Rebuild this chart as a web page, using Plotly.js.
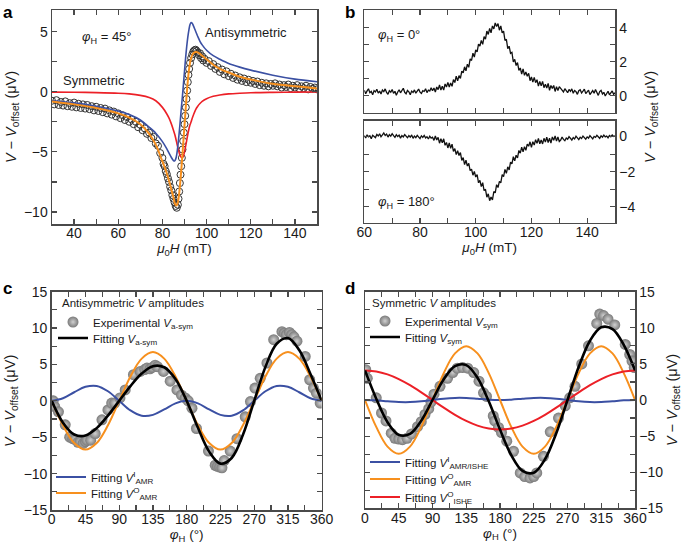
<!DOCTYPE html>
<html><head><meta charset="utf-8">
<script src="https://cdn.plot.ly/plotly-3.0.1.min.js"></script>
<style>html,body{margin:0;padding:0;background:#fff}#g{width:685px;height:549px}</style>
</head><body><div id="g"></div>
<script>
// ---------- Panel a ----------
const fieldA = [30,40,50,60,65,70,74,77,80,82,83,84,85,85.5,86,86.5,87,87.5,88,88.5,89,89.5,90,90.5,91,91.5,92,92.5,93,93.5,94,95,96,97,98,100,103,106,110,115,120,130,140,150];
const blueA = [-0.75,-0.92,-1.2,-1.6,-1.9,-2.35,-2.95,-3.45,-4.15,-4.75,-5.1,-5.45,-5.72,-5.75,-5.6,-5.2,-4.5,-3.6,-2.6,-1.5,-0.5,0.6,1.7,2.8,3.75,4.55,5.15,5.6,5.75,5.7,5.5,5.05,4.6,4.2,3.9,3.45,3.0,2.7,2.35,2.05,1.8,1.38,1.05,0.83];
const redA = [-0.03,-0.04,-0.07,-0.12,-0.18,-0.3,-0.48,-0.75,-1.3,-1.85,-2.2,-2.65,-3.2,-3.5,-3.85,-4.25,-4.65,-5.0,-5.3,-5.45,-5.5,-5.35,-5.0,-4.55,-4.05,-3.55,-3.1,-2.75,-2.5,-2.2,-1.95,-1.5,-1.2,-0.98,-0.8,-0.58,-0.38,-0.27,-0.18,-0.12,-0.08,-0.05,-0.03,-0.02];
const orangeA = [-0.82,-1.05,-1.35,-1.8,-2.15,-2.7,-3.5,-4.4,-5.8,-6.8,-7.4,-8.1,-8.8,-9.2,-9.42,-9.45,-9.2,-8.6,-7.7,-6.6,-5.4,-4.1,-2.8,-1.5,-0.2,0.9,1.8,2.4,2.8,3.05,3.2,3.3,3.28,3.15,3.0,2.7,2.25,1.9,1.6,1.25,1.02,0.66,0.45,0.28];
const fieldCirc = [30,31,32,33,34,35,36,37,38,39,40,41,42,43,44,45,46,47,48,49,50,51,52,53,54,55,56,57,58,59,60,61,62,63,64,65,66,67,68,69,70,71,72,73,74,75,76,77,78,79,80,80.5,81,81.5,82,82.5,83,83.5,84,84.5,85,85.5,86,86.5,87,87.3,87.6,87.9,88.2,88.5,88.8,89.1,89.4,89.7,90,90.3,90.6,90.9,91.2,91.5,91.8,92.1,92.5,93,93.5,94,94.5,95,95.5,96,96.5,97,97.5,98,98.5,99,100,101,102,103,104,105,106,107,108,109,110,111,112,113,114,115,116,117,118,119,120,121,122,123,124,125,126,127,128,129,130,131,132,133,134,135,136,137,138,139,140,141,142,143,144,145,146,147,148,149,150];
const vCirc = [-0.75,-1.05,-0.7,-1.1,-0.85,-1.15,-0.8,-1.2,-0.95,-1.25,-0.9,-1.3,-1.0,-1.35,-1.05,-1.4,-1.1,-1.45,-1.2,-1.55,-1.25,-1.6,-1.35,-1.7,-1.4,-1.8,-1.55,-1.9,-1.65,-2.05,-1.8,-2.2,-1.95,-2.35,-2.1,-2.5,-2.3,-2.7,-2.5,-2.95,-2.75,-3.2,-3.05,-3.5,-3.4,-3.85,-3.75,-4.3,-4.5,-5.1,-5.5,-6.0,-6.2,-6.6,-6.85,-7.2,-7.5,-7.9,-8.2,-8.6,-8.9,-9.2,-9.5,-9.65,-9.4,-8.9,-8.3,-7.6,-6.9,-6.2,-5.5,-4.8,-4.1,-3.4,-2.7,-2.0,-1.3,-0.6,0.1,0.8,1.4,1.9,2.4,2.8,3.1,3.35,3.45,3.5,3.4,3.25,3.05,3.2,2.8,2.95,2.6,2.75,2.4,2.55,2.15,2.3,1.9,2.05,1.65,1.85,1.45,1.7,1.3,1.5,1.15,1.35,1.0,1.2,0.9,1.1,0.8,1.0,0.75,0.9,0.65,0.85,0.55,0.75,0.5,0.7,0.45,0.65,0.5,0.7,0.45,0.6,0.35,0.55,0.4,0.6,0.3,0.5,0.35,0.55,0.25,0.45,0.3,0.5,0.2,0.4,0.25,0.35,0.2];

// ---------- Panel b (field sweep 60 -> 150 mT, 0.5 mT step) ----------
const sweepStartB = 60, sweepStepB = 0.5;
const vB0 = [0.32,0.12,0.28,0.41,0.18,0.25,0.05,0.30,0.22,0.38,0.15,0.27,0.10,0.33,0.24,0.40,0.19,0.08,0.29,0.21,0.36,0.14,0.26,0.03,0.22,0.35,0.17,0.29,0.44,0.20,0.11,0.31,0.23,0.06,0.27,0.19,0.34,0.15,0.28,0.39,0.21,0.13,0.30,0.25,0.41,0.18,0.33,0.27,0.46,0.29,
 0.45,0.22,0.51,0.36,0.63,0.33,0.56,0.33,0.69,0.51,0.78,0.51,0.75,0.55,0.95,0.77,1.15,0.87,1.18,1.02,1.44,1.35,1.70,1.46,1.85,1.67,2.16,2.07,2.50,2.27,2.70,2.57,3.03,2.92,3.25,3.02,3.47,3.33,3.80,3.60,3.96,3.70,4.10,3.93,4.28,4.07,4.24,3.85,4.10,3.70,3.80,3.25,3.32,2.77,2.91,2.49,2.55,1.99,2.14,1.77,1.95,1.49,1.63,1.27,1.58,1.20,1.40,1.14,1.32,0.88,1.10,0.80,1.08,0.77,0.94,0.56,0.84,0.58,0.84,0.47,0.68,0.45,0.72,0.32,0.60,0.43,0.60,0.25,0.53,0.31,0.53,
 0.45,0.33,0.22,0.41,0.30,0.18,0.37,0.26,0.40,0.14,0.31,0.24,0.08,0.29,0.35,0.16,0.27,0.39,0.12,0.25,0.33,0.06,0.22,0.30,0.14,0.36,0.19,0.02,0.24,0.31,0.10,0.20,-0.02,0.17,0.26,0.05,0.15,0.28,0.08,0.18];
const vB180 = [0.05,-0.08,0.10,-0.02,0.04,-0.12,0.07,0.01,-0.06,0.12,0.03,0.15,-0.01,0.09,0.20,0.06,0.14,-0.03,0.11,0.02,0.16,0.05,-0.05,0.10,0.00,0.08,-0.09,0.06,-0.02,0.11,0.01,-0.07,0.05,-0.04,0.09,-0.10,0.03,-0.06,0.07,-0.03,-0.12,0.04,-0.05,0.06,-0.08,-0.01,-0.14,0.02,-0.09,-0.04,
 -0.22,0.03,-0.20,-0.05,-0.38,-0.13,-0.35,-0.13,-0.50,-0.34,-0.65,-0.37,-0.67,-0.43,-0.85,-0.69,-1.03,-0.81,-1.08,-0.91,-1.36,-1.20,-1.60,-1.35,-1.68,-1.52,-1.94,-1.85,-2.20,-1.98,-2.30,-2.16,-2.63,-2.49,-2.85,-2.62,-3.07,-3.00,-3.45,-3.26,-3.65,-3.44,-3.60,-3.13,-3.20,-2.74,-2.90,-2.55,-2.63,-2.17,-2.28,-1.87,-2.09,-1.72,-1.90,-1.45,-1.55,-1.15,-1.38,-1.06,-1.22,-0.79,-0.95,-0.60,-0.87,-0.58,-0.78,-0.43,-0.55,-0.30,-0.62,-0.29,-0.48,-0.18,-0.39,-0.11,-0.41,-0.20,-0.42,-0.10,-0.31,-0.04,-0.34,-0.10,-0.37,-0.02,-0.21,0.03,-0.26,-0.03,-0.28,
 -0.20,-0.03,-0.16,-0.24,-0.08,-0.15,-0.01,-0.12,-0.20,-0.06,-0.14,0.02,-0.10,-0.18,-0.04,-0.11,0.03,-0.07,-0.15,-0.02,-0.09,0.05,-0.06,-0.13,0.01,-0.05,0.07,-0.03,-0.10,0.04,-0.04,0.08,-0.02,0.03,-0.07,0.06,-0.01,0.09,0.00,0.04];

// ---------- Panels c, d ----------
const phiFit = [0,15,30,45,60,75,90,105,120,135,150,165,180,195,210,225,240,255,270,285,300,315,330,345,360];
const cBlue = [0,0.35,1.18,1.93,2.05,1.32,0,-1.32,-2.05,-1.93,-1.18,-0.35,0,-0.35,-1.18,-1.93,-2.05,-1.32,0,1.32,2.05,1.93,1.18,0.35,0];
const cOrange = [0,-3.35,-5.8,-6.7,-5.8,-3.35,0,3.35,5.8,6.7,5.8,3.35,0,-3.35,-5.8,-6.7,-5.8,-3.35,0,3.35,5.8,6.7,5.8,3.35,0];
const cBlack = [0,-3.0,-4.62,-4.77,-3.75,-2.03,0,2.03,3.75,4.77,4.62,3.0,0,-3.7,-6.98,-8.63,-7.85,-4.67,0,4.67,7.85,8.63,6.98,3.7,0];
const cPhiExp = [2,4,9,18,24,28,31,35,38,42,45,47,52,58,67,75,80,84,91,98,109,118,124,127,131,134,138,141,149,158,167,173,178,182,187,193,209,218,221,224,227,230,238,247,258,265,271,278,287,296,307,310,313,317,320,323,327,338,344,349,353,358];
const cVExp = [0,-0.8,-1.5,-3.3,-5.0,-5.2,-5.3,-5.7,-5.6,-5.85,-5.6,-5.4,-5.4,-4.5,-2.6,-1.25,-0.3,-0.3,0.4,1.5,3.6,4.05,4.3,4.5,4.4,4.6,4.9,4.7,4.05,2.7,1.5,0.8,0.4,0,-1.0,-3.8,-6.9,-8.85,-9.0,-9.1,-9.2,-8.2,-6.9,-5.2,-2.2,-0.1,1.75,3.1,5.2,8.4,9.5,9.3,9.1,9.4,9.1,8.8,8.2,6.1,2.9,1.75,1.05,-0.3];
const dBlue = [0,-0.05,-0.17,-0.28,-0.29,-0.19,0,0.19,0.29,0.28,0.17,0.05,0,0.05,0.17,0.28,0.29,0.19,0,-0.19,-0.29,-0.28,-0.17,-0.05,0];
const dOrange = [0,-3.73,-6.45,-7.45,-6.45,-3.73,0,3.73,6.45,7.45,6.45,3.73,0,-3.73,-6.45,-7.45,-6.45,-3.73,0,3.73,6.45,7.45,6.45,3.73,0];
const dRed = [4.1,3.96,3.55,2.9,2.05,1.06,0,-1.06,-2.05,-2.9,-3.55,-3.96,-4.1,-3.96,-3.55,-2.9,-2.05,-1.06,0,1.06,2.05,2.9,3.55,3.96,4.1];
const dBlack = [4.1,0.18,-3.07,-4.83,-4.69,-2.86,0,2.86,4.69,4.83,3.07,-0.18,-4.1,-7.64,-9.83,-10.07,-8.21,-4.6,0,4.6,8.21,10.07,9.83,7.64,4.1];
const dPhiExp = [1,3,15,22,28,35,40,45,50,56,62,70,75,80,85,88,92,100,110,117,123,130,137,145,152,158,162,171,173,178,182,189,198,207,213,220,225,229,238,247,258,267,273,280,289,298,309,313,318,324,333,347,353,356,359];
const dVExp = [4.2,3.0,0.3,-1.8,-2.9,-4.6,-5.3,-5.4,-5.5,-5.3,-4.7,-3.7,-3.0,-2.0,-1.2,-0.3,0.8,1.9,3.0,3.8,4.4,4.5,4.4,3.8,2.6,1.0,0.5,-2.2,-2.9,-3.8,-4.5,-5.7,-7.1,-10.1,-10.6,-10.8,-10.6,-10.1,-7.8,-4.4,-2.5,-0.8,0.3,1.9,5.0,7.5,10.6,11.9,11.7,11.2,10.4,7.7,6.3,5.4,4.5];

const xTicksA = [40,60,80,100,120,140];
const yTicksA = [-10,-5,0,5];
const xTicksB = [60,80,100,120,140];
const yTicksB0 = [0,2,4];
const yTicksB180 = [-4,-2,0];
const xTicksCD = [0,45,90,135,180,225,270,315,360];
const yTicksCD = [-15,-10,-5,0,5,10,15];

// ---------- styling ----------
const FONT = 'Liberation Sans, Arial, Helvetica, sans-serif';
const BLUE = '#3b50a3', RED = '#ec2027', ORANGE = '#f7901e';
const W = 685, H = 549;
const px = v => v / W, py = v => 1 - v / H;
const VT = '<i>V</i> − <i>V</i><sub>offset</sub> (μV)';
const neg = arr => arr.map(v => v < 0 ? '−' + (-v) : '' + v);
const TF = s => ({family: FONT, size: s, color: '#1a1a1a'});

function ax(o) {
  return Object.assign({
    showline: true, linecolor: '#4a4a4a', linewidth: 1.5, mirror: 'ticks',
    ticks: 'inside', ticklen: 5, tickwidth: 1.2, tickcolor: '#4a4a4a',
    showgrid: false, zeroline: false, tickmode: 'array',
    tickfont: TF(14)
  }, o);
}
function minor(d) { return {dtick: d, ticks: 'inside', ticklen: 5, tickwidth: 1.2, tickcolor: '#4a4a4a', showgrid: false}; }

const traces = [
  {x: fieldCirc, y: vCirc, xaxis: 'x', yaxis: 'y', mode: 'markers', showlegend: false,
   marker: {symbol: 'circle-open', size: 7, color: '#333', line: {width: 1}}},
  {x: fieldA, y: redA, xaxis: 'x', yaxis: 'y', mode: 'lines', showlegend: false,
   line: {color: RED, width: 1.6, shape: 'spline', smoothing: 0.8}},
  {x: fieldA, y: blueA, xaxis: 'x', yaxis: 'y', mode: 'lines', showlegend: false,
   line: {color: BLUE, width: 1.6, shape: 'spline', smoothing: 0.8}},
  {x: fieldA, y: orangeA, xaxis: 'x', yaxis: 'y', mode: 'lines', showlegend: false,
   line: {color: ORANGE, width: 2, shape: 'spline', smoothing: 0.8}},

  {x0: sweepStartB, dx: sweepStepB, y: vB0, xaxis: 'x2', yaxis: 'y2', mode: 'lines', showlegend: false,
   line: {color: '#111', width: 1.3}},
  {x0: sweepStartB, dx: sweepStepB, y: vB180, xaxis: 'x3', yaxis: 'y3', mode: 'lines', showlegend: false,
   line: {color: '#111', width: 1.3}},

  {x: cPhiExp, y: cVExp, xaxis: 'x4', yaxis: 'y4', mode: 'markers', legend: 'legend',
   name: 'Experimental <i>V</i><sub>a-sym</sub>',
   marker: {size: 11, color: '#7a7a7a', gradient: {type: 'radial', color: '#d0d0d0'}, line: {width: 0}}},
  {x: phiFit, y: cBlue, xaxis: 'x4', yaxis: 'y4', mode: 'lines', legend: 'legend3',
   name: 'Fitting <i>V</i><sup>I</sup><sub>AMR</sub>', line: {color: BLUE, width: 2, shape: 'spline', smoothing: 1}},
  {x: phiFit, y: cOrange, xaxis: 'x4', yaxis: 'y4', mode: 'lines', legend: 'legend4',
   name: 'Fitting <i>V</i><sup>O</sup><sub>AMR</sub>', line: {color: ORANGE, width: 2, shape: 'spline', smoothing: 1}},
  {x: phiFit, y: cBlack, xaxis: 'x4', yaxis: 'y4', mode: 'lines', legend: 'legend2',
   name: 'Fitting <i>V</i><sub>a-sym</sub>', line: {color: '#000', width: 2.6, shape: 'spline', smoothing: 1}},

  {x: dPhiExp, y: dVExp, xaxis: 'x5', yaxis: 'y5', mode: 'markers', legend: 'legend5',
   name: 'Experimental <i>V</i><sub>sym</sub>',
   marker: {size: 11, color: '#7a7a7a', gradient: {type: 'radial', color: '#d0d0d0'}, line: {width: 0}}},
  {x: phiFit, y: dBlue, xaxis: 'x5', yaxis: 'y5', mode: 'lines', legend: 'legend7',
   name: 'Fitting <i>V</i><sup>I</sup><sub>AMR/ISHE</sub>', line: {color: BLUE, width: 2, shape: 'spline', smoothing: 1}},
  {x: phiFit, y: dOrange, xaxis: 'x5', yaxis: 'y5', mode: 'lines', legend: 'legend8',
   name: 'Fitting <i>V</i><sup>O</sup><sub>AMR</sub>', line: {color: ORANGE, width: 2, shape: 'spline', smoothing: 1}},
  {x: phiFit, y: dRed, xaxis: 'x5', yaxis: 'y5', mode: 'lines', legend: 'legend9',
   name: 'Fitting <i>V</i><sup>O</sup><sub>ISHE</sub>', line: {color: RED, width: 2, shape: 'spline', smoothing: 1}},
  {x: phiFit, y: dBlack, xaxis: 'x5', yaxis: 'y5', mode: 'lines', legend: 'legend6',
   name: 'Fitting <i>V</i><sub>sym</sub>', line: {color: '#000', width: 2.6, shape: 'spline', smoothing: 1}}
];

const leg = (x, y) => ({bgcolor: 'rgba(0,0,0,0)', borderwidth: 0, font: TF(11.5),
  x: px(x), y: py(y), xanchor: 'left', yanchor: 'middle', itemsizing: 'trace', tracegroupgap: 0});

const ann = (t, x, y, o) => Object.assign({text: t, x: px(x), y: py(y), xref: 'paper', yref: 'paper',
  xanchor: 'center', yanchor: 'middle', showarrow: false, font: TF(13)}, o || {});
const lab = (t, x, y) => ann('<b>' + t + '</b>', x, y, {xanchor: 'left', font: {family: FONT, size: 17, color: '#000'}});

const XS = -4;
const layout = {
  width: W, height: H, margin: {l: 0, r: 0, t: 0, b: 0}, paper_bgcolor: '#fff', plot_bgcolor: 'rgba(0,0,0,0)',
  font: {family: FONT, size: 14, color: '#1a1a1a'},
  xaxis: ax({domain: [px(52), px(317)], anchor: 'y', range: [30, 150], tickvals: xTicksA, minor: minor(10), ticklabelstandoff: XS,
    title: {text: '<i>μ</i><sub>0</sub><i>H</i> (mT)', standoff: 3, font: TF(13.5)}}),
  yaxis: ax({domain: [py(224), py(10)], anchor: 'x', range: [-11, 6.8], tickvals: yTicksA, ticktext: neg(yTicksA), minor: minor(2.5),
    title: {text: VT, standoff: 4, font: TF(14.5)}}),

  xaxis2: ax({domain: [px(364.3), px(615)], anchor: 'y2', range: [60, 150], tickvals: xTicksB, showticklabels: false, minor: minor(10)}),
  yaxis2: ax({domain: [py(112.7), py(10)], anchor: 'x2', side: 'right', range: [-1, 5.04], tickvals: yTicksB0, minor: minor(1)}),
  xaxis3: ax({domain: [px(364.3), px(615)], anchor: 'y3', range: [60, 150], tickvals: xTicksB, minor: minor(10), ticklabelstandoff: XS,
    title: {text: '<i>μ</i><sub>0</sub><i>H</i> (mT)', standoff: 3, font: TF(13.5)}}),
  yaxis3: ax({domain: [py(222.7), py(120.7)], anchor: 'x3', side: 'right', range: [-4.9, 0.9], tickvals: yTicksB180, ticktext: neg(yTicksB180), minor: minor(1)}),

  xaxis4: ax({domain: [px(51.7), px(321.7)], anchor: 'y4', range: [0, 360], tickvals: xTicksCD, minor: minor(22.5), ticklabelstandoff: XS,
    title: {text: '<i>φ</i><sub>H</sub> (°)', standoff: 3, font: TF(13.5)}}),
  yaxis4: ax({domain: [py(510), py(291.7)], anchor: 'x4', range: [-15, 15], tickvals: yTicksCD, ticktext: neg(yTicksCD), minor: minor(2.5),
    title: {text: VT, standoff: 4, font: TF(14.5)}}),
  xaxis5: ax({domain: [px(365), px(635)], anchor: 'y5', range: [0, 360], tickvals: xTicksCD, minor: minor(22.5), ticklabelstandoff: XS,
    title: {text: '<i>φ</i><sub>H</sub> (°)', standoff: 3, font: TF(13.5)}}),
  yaxis5: ax({domain: [py(508.3), py(291.7)], anchor: 'x5', side: 'right', range: [-15, 15], tickvals: yTicksCD, ticktext: neg(yTicksCD), minor: minor(2.5),
    title: {text: VT, standoff: 4, font: TF(14.5)}}),

  legend: leg(53, 322),
  legend2: leg(53, 338),
  legend3: leg(51, 477),
  legend4: leg(51, 493),
  legend5: leg(365, 321),
  legend6: leg(365, 337),
  legend7: leg(365, 462),
  legend8: leg(365, 479),
  legend9: leg(365, 497),

  annotations: [
    lab('a', 1, 12), lab('b', 343, 12), lab('c', 1, 288), lab('d', 343, 288),
    ann('Antisymmetric <i>V</i> amplitudes', 60, 303, {xanchor: 'left', font: TF(11.5)}),
    ann('Symmetric <i>V</i> amplitudes', 370, 303, {xanchor: 'left', font: TF(11.5)}),
    ann('<i>φ</i><sub>H</sub> = 45°', 107, 37),
    ann('Antisymmetric', 246, 32),
    ann('Symmetric', 94, 80),
    ann('<i>φ</i><sub>H</sub> = 0°', 376, 35, {xanchor: 'left'}),
    ann('<i>φ</i><sub>H</sub> = 180°', 376, 202, {xanchor: 'left'}),
    ann(VT, 651, 117, {textangle: -90, font: TF(14.5)})
  ]
};

Plotly.newPlot('g', traces, layout, {staticPlot: true, displayModeBar: false});
</script></body></html>
